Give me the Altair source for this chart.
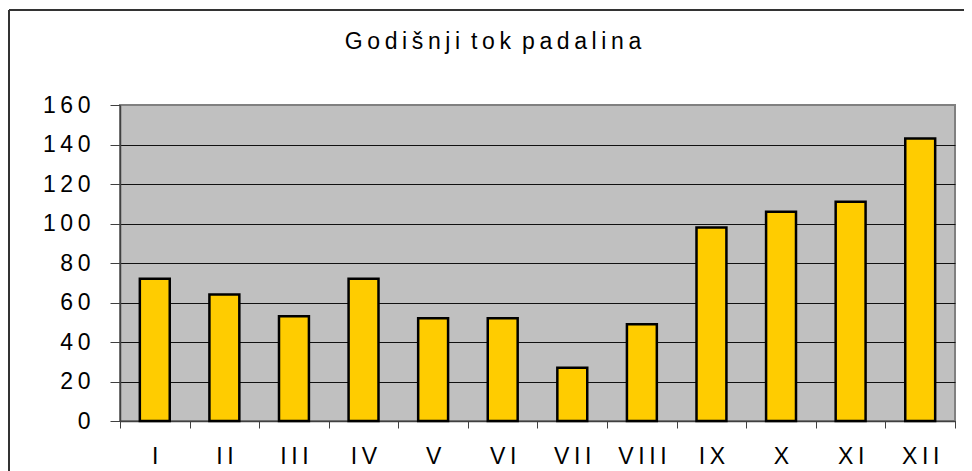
import altair as alt
import pandas as pd

# ---- data ----
months = ["I", "II", "III", "IV", "V", "VI", "VII", "VIII", "IX", "X", "XI", "XII"]
rain = [72, 64, 53, 72, 52, 52, 27, 49, 98, 106, 111, 143]
y_ticks = [0, 20, 40, 60, 80, 100, 120, 140, 160]
title_text = "Godišnji tok padalina"

df = pd.DataFrame({"month": months, "rain": rain})
frame_df = pd.DataFrame({"k": [0]})

THIN = "\u2009"
spaced_title = (THIN + " ").join(THIN.join(w) for w in title_text.split(" "))
spaced_label = "join(split(datum.label, ''), '" + THIN + "')"

FONT = "Liberation Sans"

bars = alt.Chart(df).mark_bar(
    color="#FFCC00", stroke="#000000", strokeWidth=2.5,
    width=alt.RelativeBandSize(0.43),
).encode(
    x=alt.X(
        "month:N", sort=months, title=None,
        scale=alt.Scale(paddingInner=0, paddingOuter=0),
        axis=alt.Axis(
            labelAngle=0, labelFont=FONT, labelFontSize=23, labelColor="#000000",
            labelExpr=spaced_label, tickBand="extent", tickSize=7,
            tickColor="#404040", domainColor="#404040", domainWidth=1.5,
            labelPadding=17, grid=False,
        ),
    ),
    y=alt.Y(
        "rain:Q", title=None,
        scale=alt.Scale(domain=[0, 160], nice=False),
        axis=alt.Axis(
            values=y_ticks, labelFont=FONT, labelFontSize=23, labelColor="#000000",
            labelExpr=spaced_label, tickSize=10, tickColor="#404040",
            domainColor="#404040", domainWidth=1.5, labelPadding=20,
            grid=True, gridWidth=1,
            gridColor={"condition": {"test": "datum.value === 160", "value": "#808080"},
                       "value": "#111111"},
        ),
    ),
)

frame_top = alt.Chart(frame_df).mark_rule(color="#333333", strokeWidth=2).encode(
    x=alt.value(-111), x2=alt.value(852), y=alt.value(-95)
)
frame_left = alt.Chart(frame_df).mark_rule(color="#333333", strokeWidth=2).encode(
    x=alt.value(-111), y=alt.value(-95), y2=alt.value(470)
)
title_mark = alt.Chart(frame_df).mark_text(
    font=FONT, fontSize=23, color="#000000", align="center", baseline="alphabetic"
).encode(
    x=alt.value(373), y=alt.value(-56), text=alt.value(spaced_title)
)

chart = alt.layer(frame_top, frame_left, title_mark, bars).properties(
    width=835,
    height=316,
    autosize=alt.AutoSizeParams(type="none"),
    padding={"left": 112, "top": 97, "right": 9, "bottom": 50},
    background="#ffffff",
    view=alt.ViewBackground(fill="#C0C0C0", stroke="#808080", strokeWidth=2),
).configure(font=FONT)

chart.save("out.html", embed_options={"renderer": "svg", "actions": False})
